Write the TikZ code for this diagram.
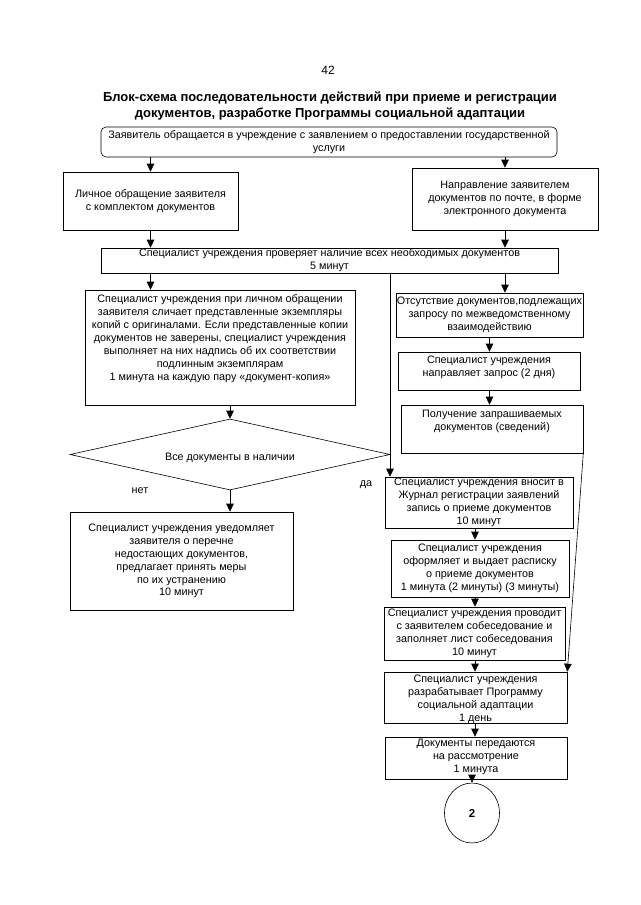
\documentclass[tikz,border=0pt]{standalone}
\usepackage{fontspec}
\setmainfont{Liberation Sans}
\usetikzlibrary{arrows.meta,shapes.geometric}
\newcommand{\mkbox}[5]{\node[box, minimum width={(#4-#2)*1pt}, minimum height={(#5-#3)*1pt}] (#1) at ({(#2+#4)/2},{(#3+#5)/2}) {};}
\begin{document}
\begin{tikzpicture}[x=1pt,y=-1pt,
  box/.style={draw=black, line width=0.6pt, fill=white, rectangle, inner sep=0pt},
  txt/.style={align=center, inner sep=0pt, font=\fontsize{10.8}{12.9}\selectfont},
  arr/.style={line width=0.6pt, -{Triangle[length=8pt,width=7.5pt]}},
  ln/.style={line width=0.6pt}]
\fill[white] (0,0) rectangle (640,905);
\useasboundingbox (0,0) rectangle (640,905);

\node[font=\fontsize{12}{14}\selectfont] (pg) at (328,70) {42};
\node[align=center, inner sep=0pt, font=\fontsize{13}{15.5}\selectfont\bfseries] (title) at (330,106)
  {Блок-схема последовательности действий при приеме и регистрации\\документов, разработке Программы социальной адаптации};

% boxes
\node[box, rounded corners=5pt, minimum width=456, minimum height=30] (start) at (329,142) {};
\mkbox{lich}{63}{172}{238}{230}
\mkbox{napr}{412}{168}{598}{230}
\mkbox{check}{101}{248}{558}{273}
\mkbox{big}{85}{290}{355}{405}
\mkbox{ots}{396}{293}{583}{337}
\mkbox{zapr}{398}{352}{580}{390}
\mkbox{polu}{401}{405}{583}{453}
\node[box, diamond, minimum width=320, minimum height=71] (dia) at (230,454.5) {};
\mkbox{net}{70}{512}{293}{610}
\mkbox{vnos}{385}{477}{573}{528}
\mkbox{ofor}{391}{540}{569}{597}
\mkbox{prov}{384}{607}{565}{660}
\mkbox{razr}{384}{672}{567}{723}
\mkbox{docs}{385}{737}{567}{779}
\node[box, ellipse, minimum width=55, minimum height=60] (two) at (472,813) {};

% texts
\node[txt] (start-t) at (start) {Заявитель обращается в учреждение с заявлением о предоставлении государственной\\услуги};
\node[txt] (lich-t) at (lich) {Личное обращение заявителя\\с комплектом документов};
\node[txt] (napr-t) at (napr) {Направление заявителем\\документов по почте, в форме\\электронного документа};
\node[txt] (check-t) at (check) {Специалист учреждения проверяет наличие всех необходимых документов\\5 минут};
\node[txt, anchor=north] (big-t) at ([yshift=-5pt]big.north) {Специалист учреждения при личном обращении\\заявителя сличает представленные экземпляры\\копий с оригиналами. Если представленные копии\\документов не заверены, специалист учреждения\\выполняет на них надпись об их соответствии\\подлинным экземплярам\\1 минута на каждую пару «документ-копия»};
\node[txt] (ots-t) at (ots) {Отсутствие документов,подлежащих\\запросу по межведомственному\\взаимодействию};
\node[txt, anchor=north] (zapr-t) at ([yshift=-4pt]zapr.north) {Специалист учреждения\\направляет запрос (2 дня)};
\node[txt, anchor=north] (polu-t) at ([yshift=-5pt]polu.north) {Получение запрашиваемых\\документов (сведений)};
\node[txt] (dia-t) at ([yshift=-3pt]dia.center) {Все документы в наличии};
\node[txt] (net-l) at (140,491) {нет};
\node[txt] (da-l) at (366,485) {да};
\node[txt] (net-t) at (net) {Специалист учреждения уведомляет\\заявителя о перечне\\недостающих документов,\\предлагает принять меры\\по их устранению\\10 минут};
\node[txt] (vnos-t) at (vnos) {Специалист учреждения вносит в\\Журнал регистрации заявлений\\запись о приеме документов\\10 минут};
\node[txt] (ofor-t) at (ofor) {Специалист учреждения\\оформляет и выдает расписку\\о приеме документов\\1 минута (2 минуты) (3 минуты)};
\node[txt] (prov-t) at (prov) {Специалист учреждения проводит\\с заявителем собеседование и\\заполняет лист собеседования\\10 минут};
\node[txt] (razr-t) at ([yshift=-2pt]razr.center) {Специалист учреждения\\разрабатывает Программу\\социальной адаптации\\1 день};
\node[txt] (docs-t) at ([yshift=1pt]docs.center) {Документы передаются\\на рассмотрение\\1 минута};
\node[txt, font=\fontsize{11.5}{13}\selectfont\bfseries] (two-t) at (two) {2};

% connectors
\coordinate (xl) at (390,0);
\coordinate (xr) at (475,0);
\draw[arr] (start.south -| lich.north) -- (lich.north);
\draw[arr] (napr.north |- start.south) -- (napr.north);
\draw[arr] (lich.south) -- (lich.south |- check.north);
\draw[arr] (napr.south) -- (napr.south |- check.north);
\draw[arr] (check.south -| lich.south) -- (big.north -| lich.south);
\draw[arr] (check.south -| napr.south) -- (ots.north -| napr.south);
\draw[arr] (check.south -| xl) -- (vnos.north -| xl);
\draw[arr] (ots.south) -- (zapr.north -| ots.south);
\draw[arr] (zapr.south -| ots.south) -- (polu.north -| ots.south);
\draw[arr] (big.south -| dia.north) -- (dia.north);
\draw[arr] (dia.south) -- (net.north -| dia.south);
\draw[arr] (vnos.south -| xr) -- (ofor.north -| xr);
\draw[arr] (ofor.south -| xr) -- (prov.north -| xr);
\draw[arr] (prov.south -| xr) -- (razr.north -| xr);
\draw[arr] (razr.south -| xr) -- (docs.north -| xr);
\draw[arr] (polu.south east) -- (razr.north east);
\draw[arr] (docs.south -| two.north) -- (two.north);
\end{tikzpicture}
\end{document}
